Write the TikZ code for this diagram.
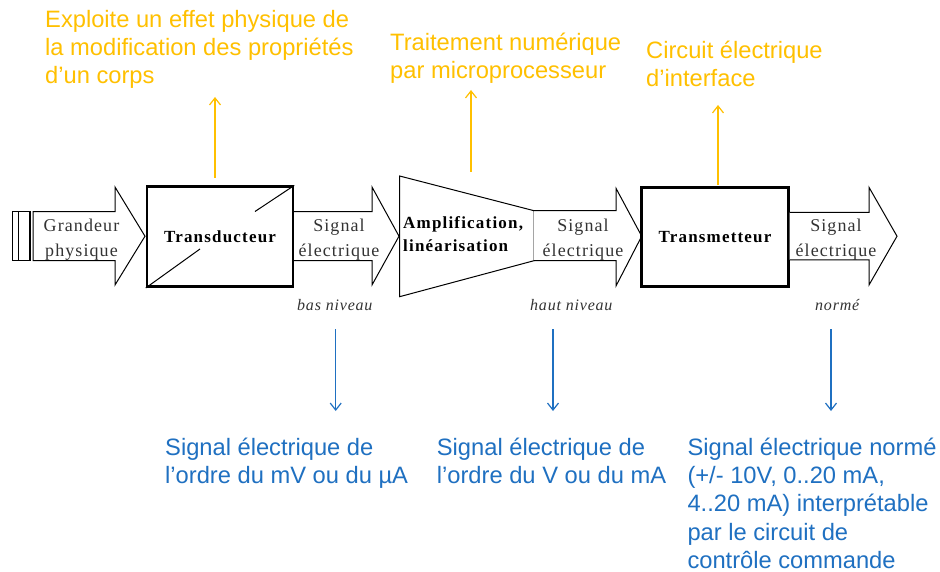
\documentclass[tikz,border=0pt]{standalone}
\usepackage{fontspec}
\setmainfont{Liberation Serif}
\newfontfamily\annotfont{Liberation Sans}
\newfontfamily\lsfont[LetterSpace=6]{Liberation Serif}
\newfontfamily\lsboldfont[LetterSpace=7]{Liberation Serif Bold}
\newfontfamily\lsitfont[LetterSpace=5]{Liberation Serif Italic}
\usetikzlibrary{arrows.meta}
\definecolor{orng}{HTML}{FFC000}
\definecolor{blu}{HTML}{1F70C1}
\tikzset{
  thickbox/.style={draw=black, line width=2.5pt, fill=white, inner sep=0pt},
  blockarrow/.style={draw=black, line width=1pt, fill=white, line join=miter},
  boxlabel/.style={font=\lsboldfont\fontsize{17}{23.7}\selectfont},
  arrlabel/.style={font=\lsfont\fontsize{18}{24.3}\selectfont, align=center, anchor=north, inner sep=0pt, text=black!80},
  levellabel/.style={font=\lsitfont\fontsize{16}{20}\selectfont, anchor=base west, inner sep=0pt, text=black!80},
  orangetext/.style={font=\annotfont\fontsize{23.7}{28.3}\selectfont, text=orng, align=left, anchor=north west, inner sep=0pt},
  bluetext/.style={font=\annotfont\fontsize{23.7}{28.3}\selectfont, text=blu, align=left, anchor=north west, inner sep=0pt},
  orangearrow/.style={draw=orng, line width=1.2pt, -{Straight Barb[length=7pt,width=11pt,line width=1.2pt]}},
  bluearrow/.style={draw=blu, line width=1.2pt, -{Straight Barb[length=7pt,width=11pt,line width=1.2pt]}}
}
\begin{document}
\begin{tikzpicture}[x=1pt,y=-1pt]
\fill[white] (0,0) rectangle (940,572);
\useasboundingbox (0,0) rectangle (940,572);

% left bars
\draw[line width=1.6pt] (12.5,211.7) rectangle (18.3,260.7);
\draw[line width=1.1pt] (18.3,211.7) rectangle (30,260.7);

% block arrow 1
\draw[blockarrow] (33,211.7) -- (115,211.7) -- (115,187) -- (145,236.2) -- (115,285) -- (115,260.7) -- (33,260.7) -- cycle;
\node[arrlabel] (grandeur) at (81.5,214.7) {\strut Grandeur\\physique};

% Transducteur box
\node[thickbox, minimum width=146pt, minimum height=100pt, boxlabel] (trans) at (220,236.7) {Transducteur};
\draw[line width=1pt] (trans.north east) -- (255,211.5);
\draw[line width=1pt] (trans.south west) -- (200,249);

% block arrow 2
\draw[blockarrow] (294,211.7) -- (372,211.7) -- (372,187) -- (399,236.2) -- (372,285) -- (372,260.7) -- (294,260.7);
\node[arrlabel] (sig1) at (339,214.7) {\strut Signal\\électrique};
\node[levellabel] (bas) at (297,310) {bas niveau};

% trapezoid
\draw[line width=1pt, line join=miter] (399.6,176) -- (534,210.7) -- (534,260.7) -- (399.6,296.7) -- cycle;
\node[boxlabel, align=left, anchor=north west, inner sep=0pt] (ampl) at (403,211.4) {\strut Amplification,\\linéarisation};

% block arrow 3
\draw[blockarrow] (534,210.7) -- (616,210.7) -- (616,188.3) -- (641.7,236.2) -- (616,286) -- (616,260.7) -- (534,260.7);
\node[arrlabel] (sig2) at (583,214.7) {\strut Signal\\électrique};
\node[levellabel] (haut) at (530,310.7) {haut niveau};

% Transmetteur box
\node[thickbox, minimum width=146.6pt, minimum height=99.4pt, boxlabel] (tm) at (715,237) {Transmetteur};

% block arrow 4
\draw[blockarrow] (789.5,212.3) -- (869,212.3) -- (869,187.3) -- (897,236.2) -- (869,285) -- (869,260) -- (789.5,260);
\node[arrlabel] (sig3) at (836,214.7) {\strut Signal\\électrique};
\node[levellabel] (norme) at (815,310.7) {normé};

% orange annotations
\node[orangetext] (o1) at (45,7.2) {\strut Exploite un effet physique de\\la modification des propriétés\\d’un corps};
\node[orangetext] (o2) at (390,30.2) {\strut Traitement numérique\\par microprocesseur};
\node[orangetext] (o3) at (646,38.2) {\strut Circuit électrique\\d’interface};
\coordinate (o1s) at (215,178);
\coordinate (o1e) at (215,97);
\coordinate (o2s) at (471,172);
\coordinate (o2e) at (471,90);
\coordinate (o3s) at (718,185.5);
\coordinate (o3e) at (718,105);
\draw[orangearrow] (o1s) -- (o1e);
\draw[orangearrow] (o2s) -- (o2e);
\draw[orangearrow] (o3s) -- (o3e);

% blue annotations
\coordinate (b1s) at (335.7,329);
\coordinate (b1e) at (335.7,411);
\coordinate (b2s) at (553,329);
\coordinate (b2e) at (553,411);
\coordinate (b3s) at (831,329);
\coordinate (b3e) at (831,411);
\draw[bluearrow] (b1s) -- (b1e);
\draw[bluearrow] (b2s) -- (b2e);
\draw[bluearrow] (b3s) -- (b3e);
\node[bluetext] (t1) at (165,435.2) {\strut Signal électrique de\\l’ordre du mV ou du µA};
\node[bluetext] (t2) at (436.7,435.2) {\strut Signal électrique de\\l’ordre du V ou du mA};
\node[bluetext] (t3) at (687.3,435.2) {\strut Signal électrique normé\\(+/- 10V, 0..20 mA,\\4..20 mA) interprétable\\par le circuit de\\contrôle commande};
\end{tikzpicture}
\end{document}
